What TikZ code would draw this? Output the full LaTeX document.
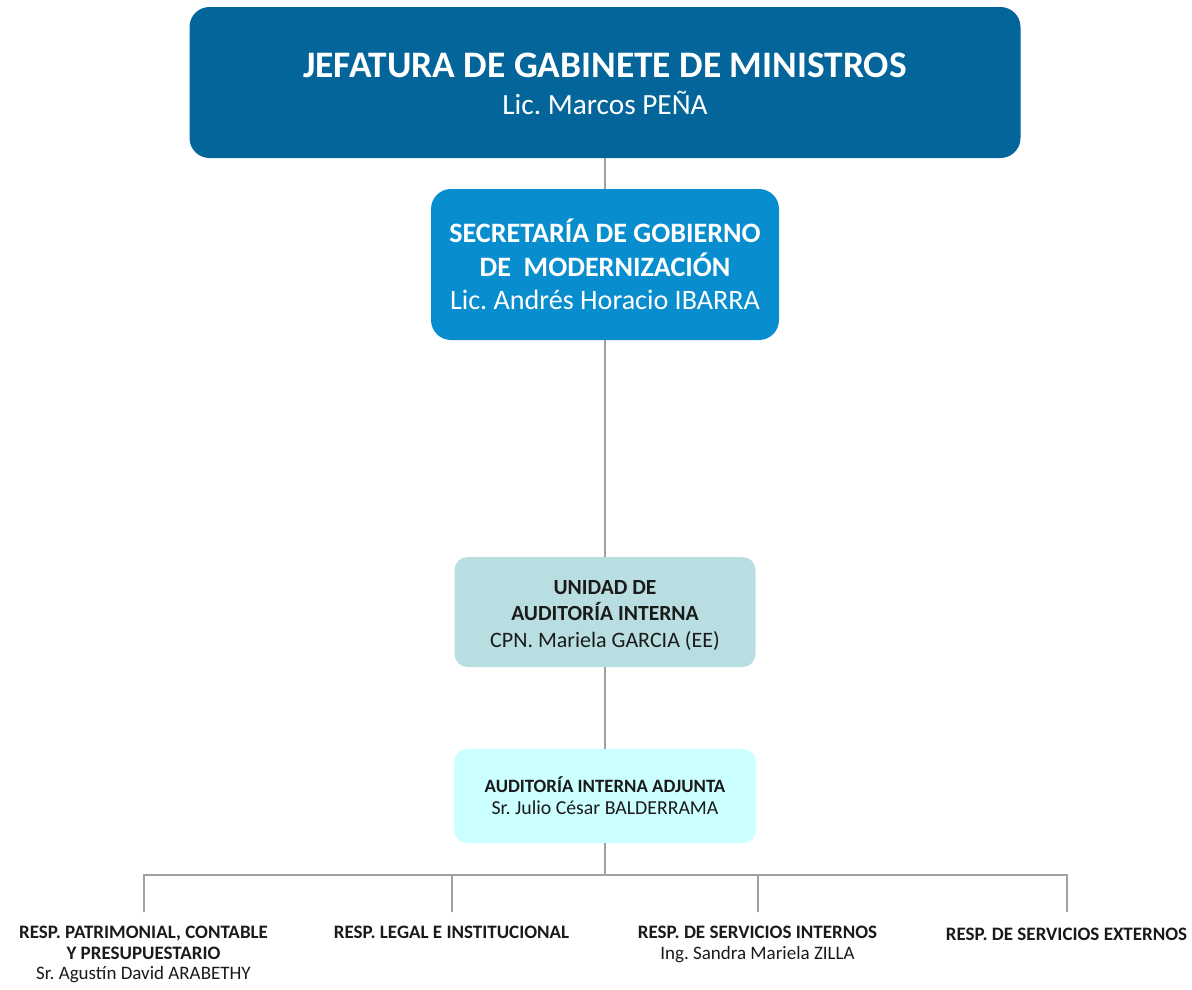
\documentclass[tikz,border=0pt]{standalone}
\usepackage{fontspec}
\setmainfont{Carlito}
\usetikzlibrary{positioning}
\definecolor{jefblue}{HTML}{03659A}
\definecolor{secblue}{HTML}{088DCF}
\definecolor{uaiteal}{HTML}{B8DEE2}
\definecolor{adjcyan}{HTML}{CCFFFF}
\definecolor{linkgray}{HTML}{A0A0A0}
\definecolor{darktext}{HTML}{1A1A1A}
\tikzset{
  orgbox/.style={align=center,inner sep=0pt},
  respnode/.style={anchor=north,inner sep=0pt,align=center,text=darktext,
                   font=\fontsize{19}{20.5}\selectfont},
  orglink/.style={draw=linkgray,line width=2.2pt}
}
\frenchspacing

\begin{document}
\begin{tikzpicture}[x=1pt,y=-1pt]
    \useasboundingbox (0,0) rectangle (1192,989);

    \node[orgbox,fill=jefblue,rounded corners=20pt,minimum width=831pt,minimum height=151pt,
          text=white,font=\fontsize{29.3}{37}\selectfont,text height=65pt]
      (jefatura) at (605,82.5)
      {{\fontsize{37.4}{37}\selectfont\bfseries JEFATURA DE GABINETE DE MINISTROS}\\Lic. Marcos PEÑA};
    \node[orgbox,fill=secblue,rounded corners=20pt,minimum width=348pt,minimum height=151pt,
          text=white,font=\fontsize{28.1}{33.5}\selectfont]
      (secretaria) at (605,264.5)
      {\textbf{SECRETARÍA DE GOBIERNO}\\\textbf{DE\ \ MODERNIZACIÓN}\\Lic. Andrés Horacio IBARRA};
    \node[orgbox,fill=uaiteal,rounded corners=13pt,minimum width=301pt,minimum height=110pt,
          text=darktext,font=\fontsize{22}{26.5}\selectfont,text height=73.4pt]
      (unidad) at (605,612)
      {{\fontsize{21.6}{26}\selectfont\bfseries UNIDAD DE}\\{\fontsize{21.6}{26}\selectfont\bfseries AUDITORÍA INTERNA}\\CPN. Mariela GARCIA (EE)};
    \node[orgbox,fill=adjcyan,rounded corners=13pt,minimum width=302pt,minimum height=94pt,
          text=darktext,font=\fontsize{19.8}{22}\selectfont]
      (adjunta) at (605,796)
      {{\fontsize{18.8}{22}\selectfont\bfseries AUDITORÍA INTERNA ADJUNTA}\\Sr. Julio César BALDERRAMA};

    \node[respnode] (patrimonial) at (143.5,926)
      {\textbf{RESP. PATRIMONIAL, CONTABLE}\\\textbf{Y PRESUPUESTARIO}\\Sr. Agustín David ARABETHY};
    \node[respnode] (legal) at (451.5,926) {\textbf{RESP. LEGAL E INSTITUCIONAL}};
    \node[respnode] (internos) at (757.5,926)
      {\textbf{RESP. DE SERVICIOS INTERNOS}\\Ing. Sandra Mariela ZILLA};
    \node[respnode] (externos) at (1066.5,928) {\textbf{RESP. DE SERVICIOS EXTERNOS}};

    \coordinate (bus) at (605,875);
    \coordinate (patrimonial-in) at (143.5,912);
    \coordinate (legal-in) at (451.5,912);
    \coordinate (internos-in) at (757.5,912);
    \coordinate (externos-in) at (1066.5,912);

    \draw[orglink] (jefatura.south) -- (secretaria.north);
    \draw[orglink] (secretaria.south) -- (unidad.north);
    \draw[orglink] (unidad.south) -- (adjunta.north);
    \draw[orglink] (adjunta.south) -- (bus);
    \draw[orglink,line width=2pt] (patrimonial-in) |- (bus) -| (externos-in);
    \draw[orglink,line width=2pt] (legal-in) -- (legal-in |- bus);
    \draw[orglink,line width=2pt] (internos-in) -- (internos-in |- bus);
\end{tikzpicture}
\end{document}
